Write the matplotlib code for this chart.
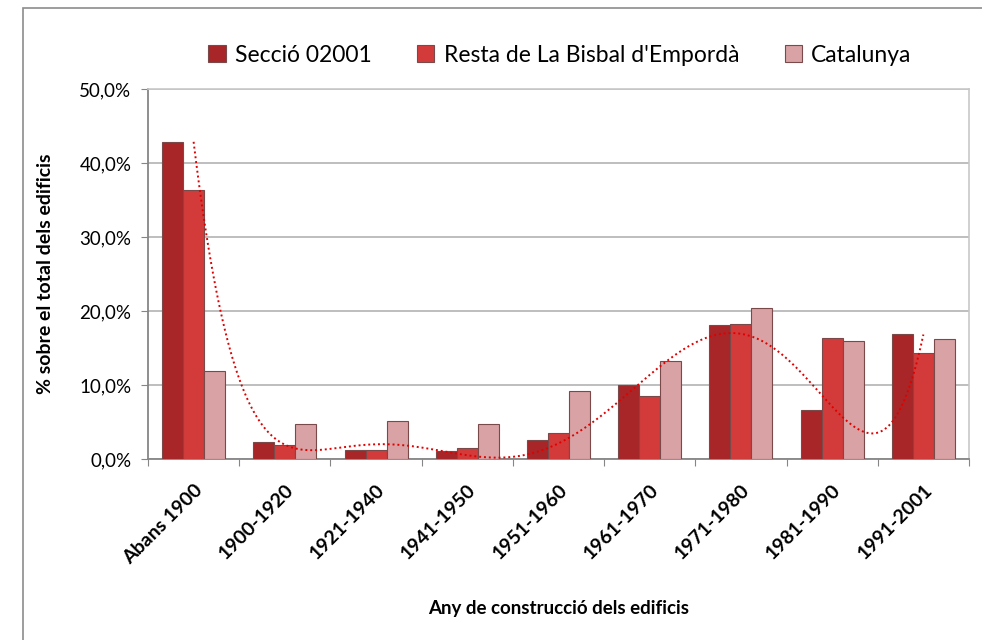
import numpy as np
import matplotlib
matplotlib.use('Agg')
import matplotlib.pyplot as plt
from matplotlib.patches import Rectangle
from matplotlib.ticker import FuncFormatter

plt.rcParams['font.family'] = ['Lato', 'DejaVu Sans']

# Data
categories = ['Abans 1900', '1900-1920', '1921-1940', '1941-1950', '1951-1960',
              '1961-1970', '1971-1980', '1981-1990', '1991-2001']
seccio = [42.8, 2.3, 1.2, 1.1, 2.6, 10.0, 18.1, 6.6, 16.9]
resta = [36.4, 1.9, 1.2, 1.5, 3.5, 8.5, 18.2, 16.3, 14.3]
catalunya = [11.9, 4.7, 5.1, 4.7, 9.2, 13.2, 20.4, 15.9, 16.2]
series_names = ['Secció 02001', "Resta de La Bisbal d'Empordà", 'Catalunya']
colors = ['#A82628', '#D33B3B', '#D9A2A4']

fig = plt.figure(figsize=(9.82, 6.4), dpi=100)
ax = fig.add_axes([148 / 982, 1 - 459 / 640, (969 - 148) / 982, (459 - 89) / 640])

# outer chart border
fig.patches.append(Rectangle((23 / 982, -0.1), 1.2, 1 - 8 / 640 + 0.1, transform=fig.transFigure,
                             fill=False, edgecolor='#8C8C8C', linewidth=1.2))

x = np.arange(1, len(categories) + 1)
w = 0.23
for i, (vals, name, c) in enumerate(zip([seccio, resta, catalunya], series_names, colors)):
    ax.bar(x + (i - 1) * w, vals, width=w, color=c, edgecolor='#7A4A4A', linewidth=0.8,
           label=name, zorder=3)

# polynomial trendline (order 6) for Secció 02001
coef = np.polyfit(x, seccio, 6)
xs = np.linspace(1, 9, 300)
ax.plot(xs, np.polyval(coef, xs), linestyle=(0, (1, 1.5)), color='#E00000', linewidth=1.4, zorder=4)

ax.set_xlim(0.5, 9.5)
ax.set_ylim(0, 50)
ax.set_yticks(np.arange(0, 51, 10))
ax.yaxis.set_major_formatter(FuncFormatter(lambda v, p: f'{v:.1f}%'.replace('.', ',')))
ax.set_xticks(np.arange(0.5, 9.6, 1))
ax.set_xticklabels([])
ax.set_xticks(x, minor=True)
ax.set_xticklabels(categories, minor=True, rotation=45, ha='right', rotation_mode='anchor',
                   fontsize=14, fontweight='bold')
ax.tick_params(axis='x', which='minor', length=0, pad=16)
ax.tick_params(axis='x', which='major', length=5, color='#868686')
ax.tick_params(axis='y', length=5, color='#868686', labelsize=13.5, pad=7)

ax.grid(axis='y', color='#BEBEBE', linewidth=1.4, zorder=0)
ax.set_axisbelow(True)
for s in ['left', 'bottom']:
    ax.spines[s].set_color('#868686')
    ax.spines[s].set_linewidth(1.3)
for s in ['top', 'right']:
    ax.spines[s].set_color('#C8C8C8')
    ax.spines[s].set_linewidth(1.2)

ax.set_ylabel('% sobre el total dels edificis', fontsize=14, fontweight='bold', labelpad=18)
ax.set_xlabel('Any de construcció dels edificis', fontsize=13.5, fontweight='bold', labelpad=24)

leg = fig.legend(loc='center', bbox_to_anchor=(560 / 982, 1 - 55 / 640), ncol=3, frameon=False,
                 fontsize=16.5, handlelength=0.75, handleheight=0.75, handletextpad=0.4,
                 columnspacing=2.0)

fig.savefig('out.png', dpi=100)
